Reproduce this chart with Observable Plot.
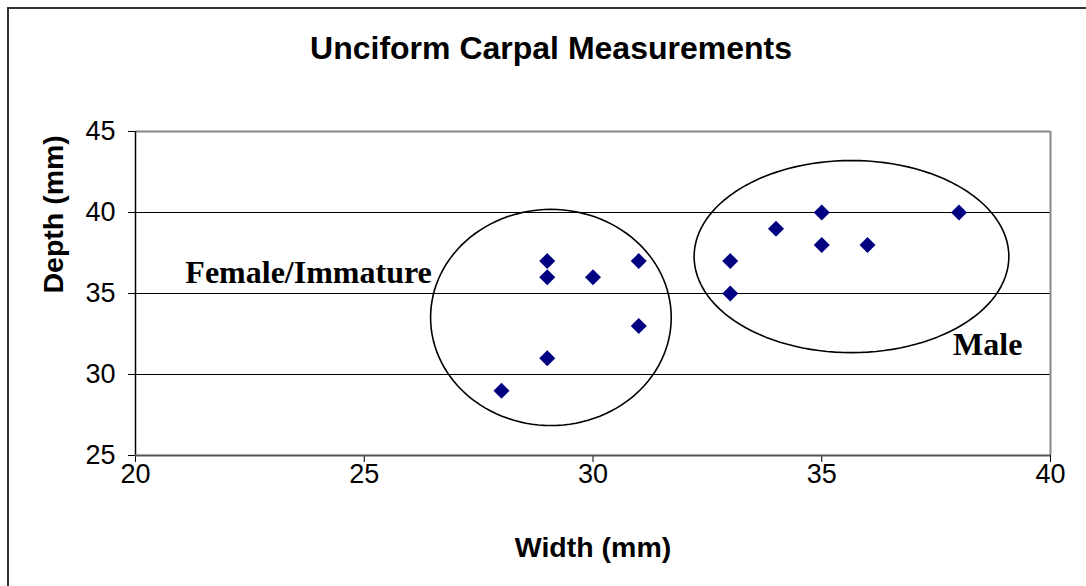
<!DOCTYPE html>
<html>
<head>
<meta charset="utf-8">
<script src="https://cdn.jsdelivr.net/npm/d3@7"></script>
<script src="https://cdn.jsdelivr.net/npm/@observablehq/plot@0.6"></script>
<style>
  html, body { margin: 0; padding: 0; background: #fff; overflow: hidden; }
  #wrap { position: relative; width: 1086px; height: 586px; overflow: hidden; }
  #border { position: absolute; left: 7px; top: 7px; width: 1200px; height: 700px; border-left: 2px solid #333; border-top: 2px solid #333; }
  #chart { position: absolute; left: 0; top: 0; }
</style>
</head>
<body>
<div id="wrap"><div id="border"></div><div id="chart"></div></div>
<script>
// Data
const widths = [28, 29, 29, 29, 30, 31, 31, 33, 33, 34, 35, 35, 36, 38];
const depths = [29, 37, 36, 31, 36, 37, 33, 37, 35, 39, 40, 38, 38, 40];
const xTicks = [20, 25, 30, 35, 40];
const yTicks = [25, 30, 35, 40, 45];
const gridLines = [30, 35, 40];
// Group annotations: label, label position, ellipse centre and radii (data units)
const groupNames = ["Female/Immature", "Male"];
const labelX = [21.09, 37.87];
const labelY = [36.27, 31.82];
const ellipseCx = [29.08, 35.65];
const ellipseCy = [33.52, 37.28];
const ellipseRx = [2.63, 3.44];
const ellipseRy = [6.67, 5.93];

const points = widths.map((w, i) => ({width: w, depth: depths[i]}));
const labels = groupNames.map((n, i) => ({name: n, x: labelX[i], y: labelY[i]}));
const outlines = [];
groupNames.forEach((n, i) => {
  const steps = 120;
  for (let k = 0; k < steps; k++) {
    const t = 2 * Math.PI * k / steps;
    outlines.push({group: n, x: ellipseCx[i] + ellipseRx[i] * Math.cos(t), y: ellipseCy[i] + ellipseRy[i] * Math.sin(t)});
  }
});

const chart = Plot.plot({
  width: 1086,
  height: 586,
  marginLeft: 135,
  marginRight: 36,
  marginTop: 131,
  marginBottom: 131,
  style: {fontFamily: "Liberation Sans, Arial, sans-serif", background: "transparent"},
  x: {domain: [20, 40], ticks: xTicks},
  y: {domain: [25, 45], ticks: yTicks},
  marks: [
    Plot.ruleY(gridLines, {stroke: "#000", strokeWidth: 1}),
    Plot.ruleY([45], {stroke: "#888", strokeWidth: 2}),
    Plot.ruleX([40], {stroke: "#888", strokeWidth: 2}),
    Plot.axisX({ticks: xTicks, tickSize: 7, tickPadding: 1, fontSize: 27, label: null, stroke: "#000", color: "#000", tickFormat: d => d}),
    Plot.axisY({ticks: yTicks, tickSize: 7, tickPadding: 13, fontSize: 27, label: null, stroke: "#000", color: "#000", tickFormat: d => d}),
    Plot.ruleX([20], {stroke: "#000", strokeWidth: 1.5}),
    Plot.ruleY([25], {stroke: "#555", strokeWidth: 2}),
    Plot.line(outlines, {x: "x", y: "y", z: "group", curve: "linear-closed", stroke: "#000", strokeWidth: 1.6}),
    Plot.dot(points, {x: "width", y: "depth", symbol: "diamond2", r: 7.2, fill: "#000080", stroke: "none"}),
    Plot.text(labels, {x: "x", y: "y", text: "name", fontFamily: "Liberation Serif, Times New Roman, serif", fontWeight: "bold", fontSize: 32, fill: "#000", textAnchor: "start", lineAnchor: "middle"}),
    Plot.text(["Unciform Carpal Measurements"], {frameAnchor: "top", lineAnchor: "top", dx: -42, dy: -95, fontSize: 32, fontWeight: "bold", fill: "#000"}),
    Plot.text(["Width (mm)"], {frameAnchor: "bottom", lineAnchor: "middle", dx: 0, dy: 92, fontSize: 28.5, fontWeight: "bold", fill: "#000"}),
    Plot.text(["Depth (mm)"], {frameAnchor: "left", lineAnchor: "middle", dx: -82, dy: 0, rotate: -90, fontSize: 28.5, fontWeight: "bold", fill: "#000"})
  ]
});
document.getElementById("chart").appendChild(chart);
</script>
</body>
</html>
